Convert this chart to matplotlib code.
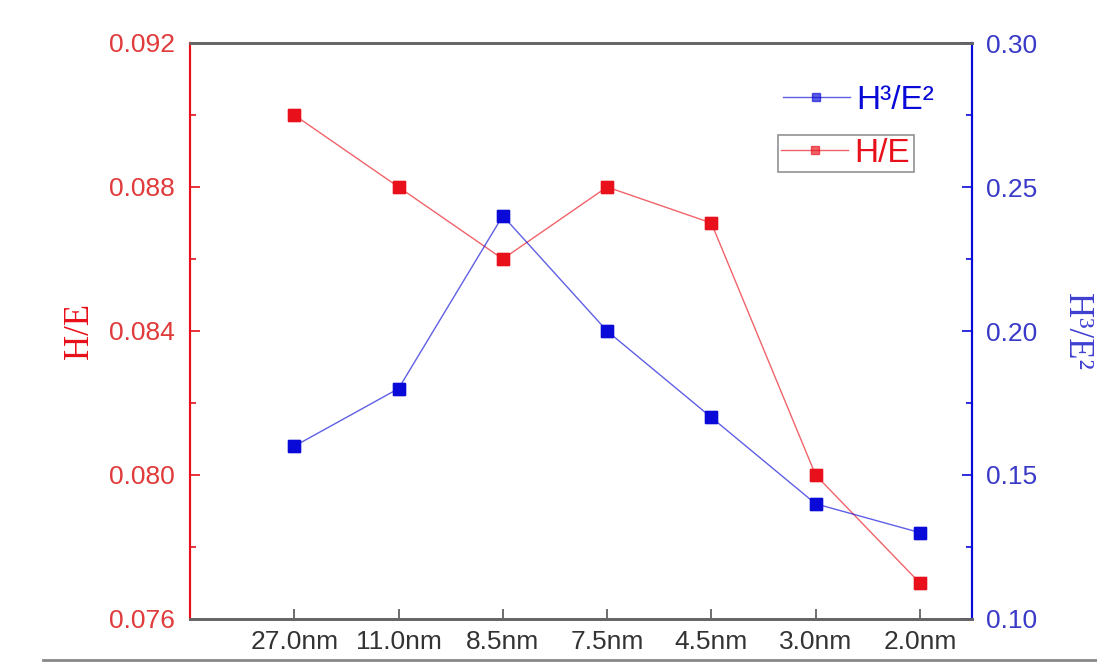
import numpy as np
import matplotlib.pyplot as plt
from matplotlib.lines import Line2D

# data
labels = ['27.0nm', '11.0nm', '8.5nm', '7.5nm', '4.5nm', '3.0nm', '2.0nm']
h_e = [0.090, 0.088, 0.086, 0.088, 0.087, 0.080, 0.077]
h3_e2 = [0.16, 0.18, 0.24, 0.20, 0.17, 0.14, 0.13]

red = '#e8101a'
blue = '#0a0ad8'
x = np.arange(1, len(labels) + 1)

plt.rcParams['font.family'] = 'Liberation Sans'

fig = plt.figure(figsize=(10.97, 6.71), dpi=100)
ax1 = fig.add_axes([190/1097, 1 - 619/671, (972-190)/1097, (619-43)/671])
ax2 = ax1.twinx()

l1, = ax1.plot(x, h_e, color=red, lw=1.0, alpha=0.65, marker='s', ms=9,
               mfc=red, mec=red, label='H/E')
l2, = ax2.plot(x, h3_e2, color=blue, lw=1.0, alpha=0.65, marker='s', ms=9,
               mfc=blue, mec=blue, label='H³/E²')
# opaque markers on top
ax1.plot(x, h_e, ls='none', marker='s', ms=9, color=red)
ax2.plot(x, h3_e2, ls='none', marker='s', ms=9, color=blue)

ax1.set_xlim(0, 7.5)
ax1.set_ylim(0.076, 0.092)
ax2.set_ylim(0.10, 0.30)
ax1.set_xticks(x)
ax1.set_xticklabels(labels)
ax1.set_yticks([0.076, 0.080, 0.084, 0.088, 0.092])
ax1.set_yticks([0.078, 0.082, 0.086, 0.090], minor=True)
ax2.set_yticks([0.10, 0.15, 0.20, 0.25, 0.30])
ax2.set_yticks([0.125, 0.175, 0.225, 0.275], minor=True)
ax1.yaxis.set_major_formatter(plt.FormatStrFormatter('%.3f'))
ax2.yaxis.set_major_formatter(plt.FormatStrFormatter('%.2f'))

ax1.tick_params(axis='x', direction='in', length=7, width=1.2, colors='#555555',
                labelcolor='#333333', labelsize=19, pad=8)
ax1.tick_params(axis='y', which='both', direction='in', colors=red,
                labelcolor='#e03a3a', labelsize=19, width=1.2, pad=11)
ax1.tick_params(axis='y', which='major', length=7)
ax1.tick_params(axis='y', which='minor', length=4)
ax2.tick_params(axis='y', which='both', direction='in', colors=blue,
                labelcolor='#3a3ac8', labelsize=19, width=1.2, pad=10)
ax2.tick_params(axis='y', which='major', length=7)
ax2.tick_params(axis='y', which='minor', length=4)

for ax in (ax1, ax2):
    ax.spines['top'].set_color('#666666')
    ax.spines['bottom'].set_color('#666666')
    ax.spines['top'].set_linewidth(2)
    ax.spines['bottom'].set_linewidth(2)
    ax.spines['left'].set_color(red)
    ax.spines['right'].set_color(blue)
    ax.spines['left'].set_linewidth(1.5)
    ax.spines['right'].set_linewidth(1.5)

ax1.set_ylabel('H/E', color=red, fontsize=25, family='Liberation Serif', labelpad=9)
ax2.set_ylabel('H³/E²', color='#4040d0', fontsize=25, family='Liberation Serif',
               rotation=-90, labelpad=40)

leg2 = ax2.legend(handles=[l2], loc='center left', bbox_to_anchor=(0.754, 0.90),
                  frameon=False, fontsize=24, handlelength=2.0, handletextpad=0.2,
                  borderpad=0.1, borderaxespad=0, markerscale=0.7)
for t in leg2.get_texts():
    t.set_color(blue)
leg1 = ax2.legend(handles=[l1], loc='center left', bbox_to_anchor=(0.752, 0.808),
                  frameon=True, fancybox=False, fontsize=24, handlelength=2.0,
                  handletextpad=0.2, borderpad=0.1, borderaxespad=0, markerscale=0.7)
leg1.get_frame().set_edgecolor('#777777')
leg1.get_frame().set_linewidth(1.2)
for t in leg1.get_texts():
    t.set_color(red)
ax2.add_artist(leg2)

# image border line at the bottom
fig.add_artist(Line2D([43/1097, 1], [1 - 660/671, 1 - 660/671], color='#888888', lw=2))

fig.savefig('out.png', dpi=100)
